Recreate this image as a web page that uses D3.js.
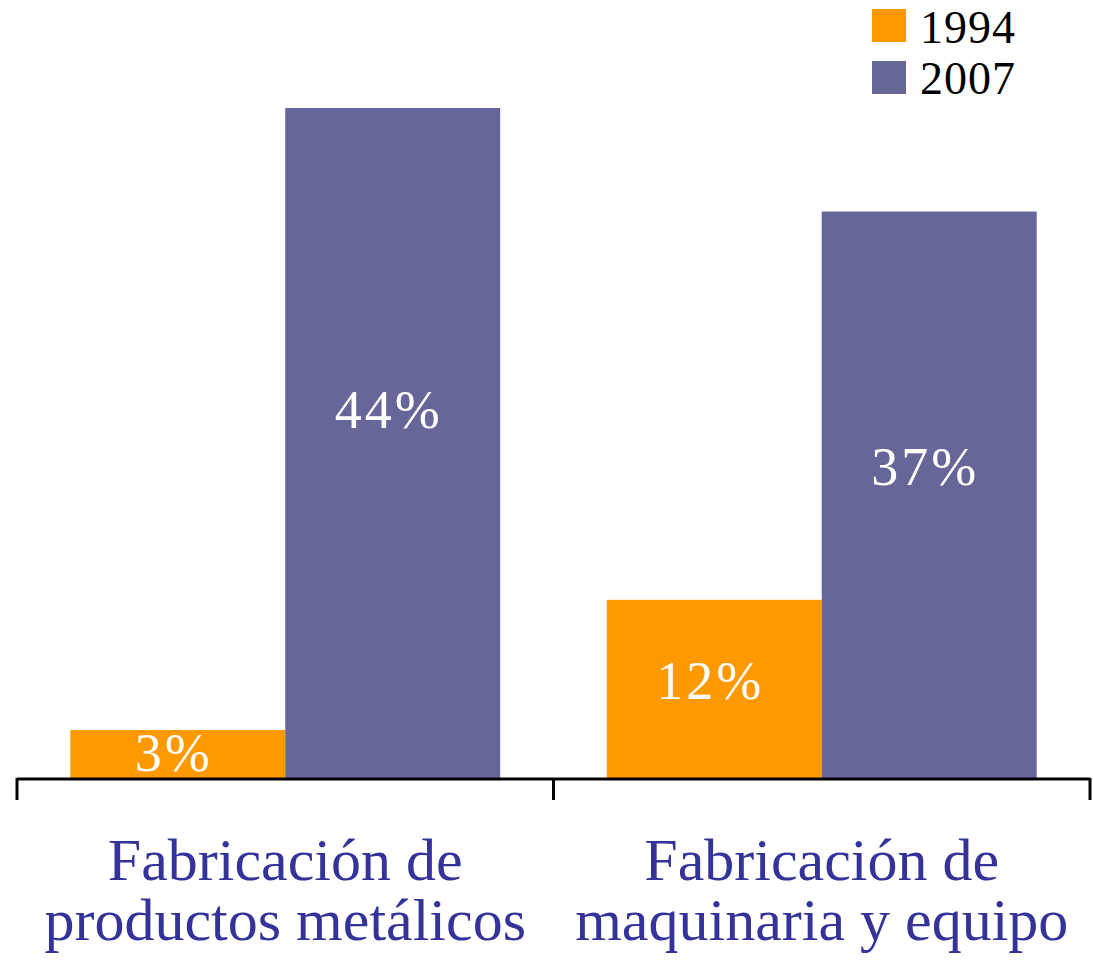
<!DOCTYPE html>
<html>
<head>
<meta charset="utf-8">
<script src="https://cdn.jsdelivr.net/npm/d3@7"></script>
<style>
  html, body { margin: 0; padding: 0; background: #fff; }
  svg { display: block; }
</style>
</head>
<body>
<svg id="chart" width="1093" height="964"></svg>
<script>
// ---- data ----
const categories = [
  ["Fabricación de", "productos metálicos"],
  ["Fabricación de", "maquinaria y equipo"]
];
const seriesNames = ["1994", "2007"];
const values1994 = [3.15, 11.7];
const values2007 = [44, 37.2];
const labels1994 = ["3%", "12%"];
const labels2007 = ["44%", "37%"];
const colors = ["#FF9900", "#666699"];

// ---- layout ----
const svg = d3.select("#chart");
const baseY = 778;
const x0 = d3.scaleBand().domain([0, 1]).range([17, 1090]).paddingInner(0).paddingOuter(0);
const x1 = d3.scaleBand().domain(seriesNames).range([0, x0.bandwidth()]).paddingInner(0).paddingOuter(0.248);
const y = d3.scaleLinear().domain([0, 44]).range([baseY, 108]);

const serif = "'Liberation Serif', 'Times New Roman', serif";

const rows = categories.map((c, i) => ({
  idx: i,
  vals: [
    { s: seriesNames[0], v: values1994[i], label: labels1994[i] },
    { s: seriesNames[1], v: values2007[i], label: labels2007[i] }
  ]
}));

const g = svg.append("g");
const groups = g.selectAll("g.grp").data(rows).enter().append("g")
  .attr("transform", d => `translate(${x0(d.idx)},0)`);

groups.selectAll("rect").data(d => d.vals).enter().append("rect")
  .attr("x", d => x1(d.s))
  .attr("width", x1.bandwidth())
  .attr("y", d => y(d.v))
  .attr("height", d => baseY - y(d.v))
  .attr("fill", (d, i) => colors[i]);

groups.selectAll("text.val").data(d => d.vals).enter().append("text")
  .attr("class", "val")
  .attr("x", d => x1(d.s) + x1.bandwidth() / 2 - 4)
  .attr("y", d => y(d.v) + 0.45 * (baseY - y(d.v)))
  .attr("dy", "0.35em")
  .attr("text-anchor", "middle")
  .attr("fill", "#fff")
  .attr("font-family", serif)
  .attr("font-size", 54)
  .attr("letter-spacing", 3)
  .text(d => d.label);

// axis
svg.append("line").attr("x1", 17).attr("x2", 1090).attr("y1", baseY + 1).attr("y2", baseY + 1)
  .attr("stroke", "#000").attr("stroke-width", 3);
const tickXs = [x0(0), x0(1), x0(1) + x0.bandwidth()];
svg.selectAll("line.tick").data(tickXs).enter().append("line")
  .attr("class", "tick")
  .attr("x1", d => d).attr("x2", d => d)
  .attr("y1", baseY).attr("y2", baseY + 22)
  .attr("stroke", "#000").attr("stroke-width", 3);

// category labels
const catG = svg.selectAll("text.cat").data(categories).enter().append("text")
  .attr("class", "cat")
  .attr("x", (d, i) => x0(i) + x0.bandwidth() / 2)
  .attr("y", 880)
  .attr("text-anchor", "middle")
  .attr("fill", "#333399")
  .attr("font-family", serif)
  .attr("font-size", 60);
catG.selectAll("tspan").data(d => d).enter().append("tspan")
  .attr("x", function() { return d3.select(this.parentNode).attr("x"); })
  .attr("dy", (d, i) => i === 0 ? 0 : 60)
  .text(d => d);

// legend
const leg = svg.append("g");
seriesNames.forEach((s, i) => {
  leg.append("rect").attr("x", 872).attr("y", 9 + i * 52).attr("width", 34).attr("height", 33).attr("fill", colors[i]);
  leg.append("text").attr("x", 920).attr("y", 43 + i * 51)
    .attr("font-family", serif).attr("font-size", 46).attr("letter-spacing", 1).attr("fill", "#000")
    .text(s);
});
</script>
</body>
</html>
